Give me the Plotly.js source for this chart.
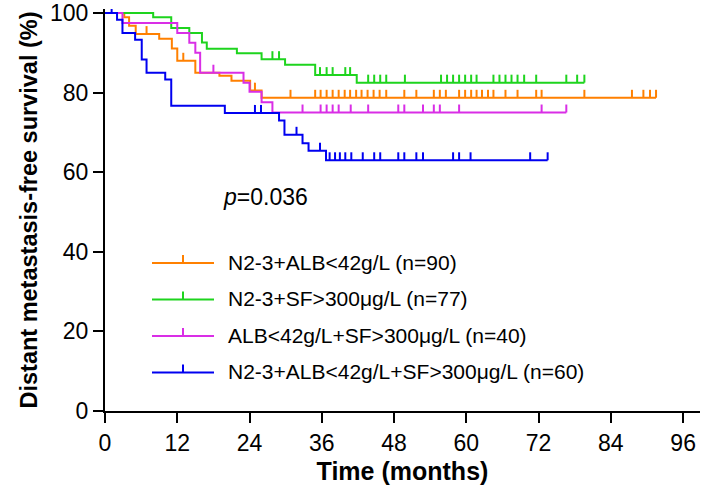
<!DOCTYPE html>
<html>
<head>
<meta charset="utf-8">
<script src="https://cdn.plot.ly/plotly-3.0.1.min.js"></script>
<style>
html, body { margin: 0; padding: 0; background: #fff; }
#chart { width: 704px; height: 492px; }
</style>
</head>
<body>
<div id="chart"></div>
<script>
// groups, in legend order
var groupNames = [
  'N2-3+ALB<42g/L (n=90)',
  'N2-3+SF>300\u03bcg/L (n=77)',
  'ALB<42g/L+SF>300\u03bcg/L (n=40)',
  'N2-3+ALB<42g/L+SF>300\u03bcg/L (n=60)'
];
var groupColors = ['#ff8000', '#1ed41e', '#d92ee6', '#0000f0'];

// event times (months) and survival (%) after each drop
var orangeTimes = [3.2, 4.0, 5.1, 9.0, 11.1, 12.0, 15.0, 19.0, 21.0, 24.1, 26.0];
var orangeSurv = [98.9, 96.8, 94.7, 93.5, 91.1, 88.0, 85.0, 84.2, 83.0, 80.5, 78.7];
var orangeCensor = [6.9, 13.0, 24.9, 30.8, 34.9, 35.8, 36.8, 37.8, 38.8, 39.8, 40.7, 41.7, 42.6,
  43.6, 44.6, 45.6, 46.7, 49.7, 51.7, 54.6, 55.6, 56.6, 58.8, 59.8, 60.8, 61.7, 62.6, 63.6,
  64.5, 66.5, 68.5, 71.6, 72.5, 79.6, 87.5, 89.4, 90.5, 91.5];

var greenTimes = [8.0, 11.0, 14.0, 16.1, 16.9, 21.9, 26.0, 29.9, 34.9, 41.8];
var greenSurv = [98.9, 96.2, 95.0, 92.6, 91.0, 89.9, 88.4, 87.0, 84.4, 82.5];
var greenCensor = [27.8, 28.9, 35.7, 36.8, 37.8, 39.9, 40.7, 43.7, 44.7, 45.7, 46.7, 49.8, 55.8,
  56.8, 57.8, 58.8, 59.8, 60.8, 61.7, 64.5, 65.5, 66.5, 67.5, 68.5, 69.6, 71.6, 76.6, 78.4, 79.6];

var magentaTimes = [2.9, 12.0, 14.0, 15.0, 15.8, 23.0, 24.0, 26.0, 27.8];
var magentaSurv = [97.5, 95.0, 92.5, 90.0, 85.0, 82.5, 80.2, 77.6, 75.0];
var magentaCensor = [18.0, 32.8, 35.8, 36.8, 37.8, 38.8, 40.8, 43.7, 48.7, 49.7, 52.8, 54.6,
  55.6, 58.8, 72.5, 76.6];

var blueTimes = [2.0, 2.9, 5.0, 6.1, 6.9, 10.0, 11.0, 19.9, 28.9, 29.8, 32.8, 33.8, 36.7];
var blueSurv = [98.3, 95.0, 93.3, 88.3, 85.0, 83.3, 76.7, 74.9, 73.0, 69.4, 67.3, 65.4, 63.0];
var blueCensor = [1.1, 24.9, 25.9, 31.8, 35.7, 37.3, 38.2, 39.0, 39.9, 40.9, 42.8, 44.7, 45.7,
  48.7, 49.7, 51.7, 52.8, 57.8, 58.8, 60.7, 70.6, 73.5];

var xTicks = [0, 12, 24, 36, 48, 60, 72, 84, 96];
var yTicks = [0, 20, 40, 60, 80, 100];
var pText = '<i>p</i>=0.036';

var groups = [
  [orangeTimes, orangeSurv, orangeCensor],
  [greenTimes, greenSurv, greenCensor],
  [magentaTimes, magentaSurv, magentaCensor],
  [blueTimes, blueSurv, blueCensor]
];

function survAt(times, surv, t) {
  var s = 100;
  for (var i = 0; i < times.length; i++) {
    if (times[i] <= t) s = surv[i];
  }
  return s;
}

var font = '"Liberation Sans", Arial, sans-serif';
var data = [];
groups.forEach(function (g, i) {
  var times = g[0], surv = g[1], cens = g[2];
  var end = Math.max(times[times.length - 1], cens[cens.length - 1]);
  var xs = [0].concat(times, [end]);
  var ys = [100].concat(surv, [surv[surv.length - 1]]);
  data.push({
    x: xs, y: ys, mode: 'lines', type: 'scatter',
    line: { shape: 'hv', color: groupColors[i], width: 2 },
    showlegend: false, hoverinfo: 'skip'
  });
  // censored marks as short upward ticks
  data.push({
    x: cens,
    y: cens.map(function (t) { return survAt(times, surv, t); }),
    mode: 'markers', type: 'scatter', cliponaxis: false,
    marker: { size: 2, color: groupColors[i], opacity: 0 },
    error_y: {
      type: 'data', symmetric: false,
      array: cens.map(function () { return 2; }),
      arrayminus: cens.map(function () { return 0; }),
      width: 0, thickness: 2, color: groupColors[i]
    },
    showlegend: false, hoverinfo: 'skip'
  });
});

// pixel -> paper helpers for legend placement
var W = 704, H = 492, ml = 105, mr = 4, mt = 9, mb = 81;
function px(x) { return (x - ml) / (W - ml - mr); }
function py(y) { return (H - mb - y) / (H - mt - mb); }

var shapes = [], annotations = [];
var legendY = [262, 298.5, 335, 371.5];
groupNames.forEach(function (name, i) {
  shapes.push({ type: 'line', xref: 'paper', yref: 'paper',
    x0: px(152), x1: px(214), y0: py(legendY[i] + 1), y1: py(legendY[i] + 1),
    line: { color: groupColors[i], width: 2 } });
  shapes.push({ type: 'line', xref: 'paper', yref: 'paper',
    x0: px(183), x1: px(183), y0: py(legendY[i] + 1), y1: py(legendY[i] - 7),
    line: { color: groupColors[i], width: 2 } });
  annotations.push({ xref: 'paper', yref: 'paper', x: px(226), y: py(legendY[i]),
    xanchor: 'left', yanchor: 'middle', showarrow: false, text: name,
    font: { family: font, size: 21, color: '#000' } });
});
annotations.push({ xref: 'paper', yref: 'paper', x: px(221), y: py(197),
  xanchor: 'left', yanchor: 'middle', showarrow: false, text: pText,
  font: { family: font, size: 23, color: '#000' } });

var layout = {
  width: W, height: H,
  margin: { l: ml, r: mr, t: mt, b: mb },
  paper_bgcolor: '#fff', plot_bgcolor: '#fff',
  showlegend: false,
  font: { family: font, color: '#000' },
  xaxis: {
    range: [0, 98.8], tickvals: xTicks, ticktext: xTicks.map(String),
    showgrid: false, zeroline: false, showline: true, linecolor: '#000', linewidth: 2,
    ticks: 'outside', ticklen: 10, tickwidth: 2, tickcolor: '#000',
    tickfont: { family: font, size: 23, color: '#000' },
    title: { text: 'Time (months)', standoff: 8,
      font: { family: font, size: 25, weight: 700, color: '#000' } }
  },
  yaxis: {
    range: [0, 101], tickvals: yTicks, ticktext: yTicks.map(String),
    showgrid: false, zeroline: false, showline: true, linecolor: '#000', linewidth: 2,
    ticks: 'outside', ticklen: 10, tickwidth: 2, tickcolor: '#000',
    tickfont: { family: font, size: 23, color: '#000' },
    title: { text: 'Distant metastasis-free survival (%)', standoff: 6,
      font: { family: font, size: 23.5, weight: 700, color: '#000' } }
  },
  shapes: shapes,
  annotations: annotations
};

Plotly.newPlot('chart', data, layout, { displayModeBar: false, staticPlot: true });
</script>
</body>
</html>
